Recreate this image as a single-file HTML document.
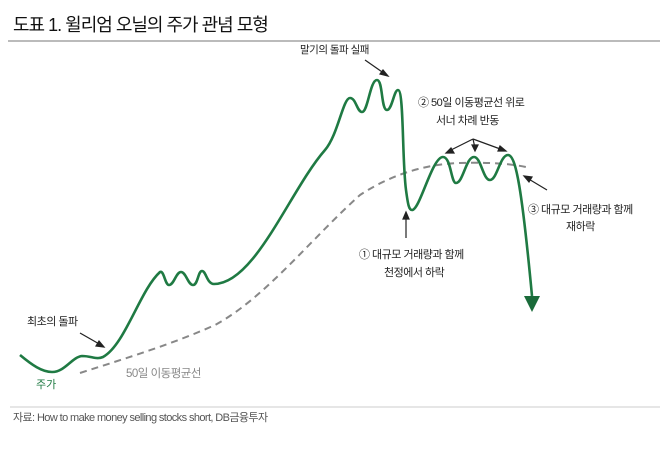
<!DOCTYPE html>
<html><head><meta charset="utf-8"><style>
body{margin:0;background:#fff;width:670px;height:444px;overflow:hidden;font-family:"Liberation Sans","Noto Sans CJK KR",sans-serif}
</style></head><body>
<svg width="670" height="444" viewBox="0 0 670 444" xmlns="http://www.w3.org/2000/svg" style="font-family:'Liberation Sans','Noto Sans CJK KR',sans-serif">
<text x="13" y="31" font-size="18" fill="#111" letter-spacing="-1">도표 1. 윌리엄 오닐의 주가 관념 모형</text>
<line x1="8" y1="41" x2="660" y2="41" stroke="#bbb" stroke-width="2"/>
<line x1="10" y1="407" x2="660" y2="407" stroke="#ccc" stroke-width="1"/>
<text x="13" y="421" font-size="11" fill="#555" letter-spacing="-0.6">자료: How to make money selling stocks short, DB금융투자</text>

<path d="M80,373 C130,357 175,343 215,325 C265,298 310,240 360,195 C395,172 430,164 460,163 C490,162 515,164 530,168" fill="none" stroke="#888" stroke-width="2" stroke-dasharray="7,5"/>

<path d="M20,355 C32,365 42,372 52,372 C65,372 72,357 82,356 C92,356 96,360 103,357 C125,345 140,290 160,272 C164,270 165,285 169,285 C174,285 176,272 181,272 C186,272 188,285 193,285 C198,285 198,271 202,271 C206,271 207,284 214,284 C255,284 290,190 325,150 C338,135 343,98 350,98 C356,98 357,112 362,112 C368,112 370,80 377,80 C383,80 381,110 387,110 C392,110 394,90 398,90 C404,90 402,160 406,190 C408,205 409,210 412,210 C420,210 432,157 443,157 C451,157 451,183 456,183 C463,183 466,157 474,157 C481,157 483,180 490,180 C497,180 500,155 508,155 C516,155 522,190 532,296" fill="none" stroke="#1f7a43" stroke-width="2.6"/>
<polygon points="524,296 540,296 532,312" fill="#1a6b3a"/>

<g stroke="#222" stroke-width="1.2" fill="#222">
<line x1="365" y1="60" x2="385" y2="74"/><polygon points="388,76 380,74 383,70"/>
<line x1="80" y1="333" x2="101" y2="345"/><polygon points="104,347 96,346 99,341"/>
<line x1="406" y1="238" x2="406" y2="216"/><polygon points="406,212 403,219 409,219"/>
<line x1="473" y1="139" x2="449" y2="151"/><polygon points="446,153 454,153 451,148"/>
<line x1="473" y1="139" x2="475" y2="148"/><polygon points="475,151 472,145 478,145"/>
<line x1="473" y1="139" x2="503" y2="150"/><polygon points="506,151 498,151 500,146"/>
<line x1="547" y1="190" x2="527" y2="178"/><polygon points="524,176 532,177 529,182"/>
</g>

<g font-size="11" fill="#222" letter-spacing="-0.5">
<text x="300" y="53" font-size="10.5">말기의 돌파 실패</text>
<text x="418" y="106">② 50일 이동평균선 위로</text>
<text x="436" y="124">서너 차례 반동</text>
<text x="359" y="258">① 대규모 거래량과 함께</text>
<text x="384" y="276">천정에서 하락</text>
<text x="528" y="213">③ 대규모 거래량과 함께</text>
<text x="566" y="230">재하락</text>
<text x="27" y="325">최초의 돌파</text>
</g>
<text x="36" y="388" font-size="11" fill="#1f7a43">주가</text>
<text x="126" y="377" font-size="11.5" fill="#888" letter-spacing="-0.5">50일 이동평균선</text>
</svg>
</body></html>
